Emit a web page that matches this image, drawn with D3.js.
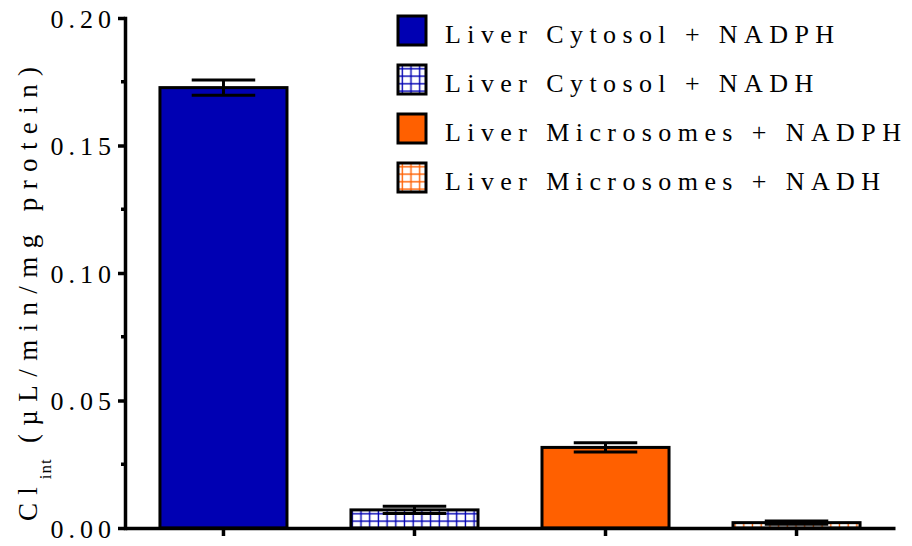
<!DOCTYPE html>
<html>
<head>
<meta charset="utf-8">
<script src="https://cdn.jsdelivr.net/npm/d3@7"></script>
</head>
<body style="margin:0">
<script>
// data
const categories = ["Liver Cytosol + NADPH", "Liver Cytosol + NADH", "Liver Microsomes + NADPH", "Liver Microsomes + NADH"];
const means = [0.1727, 0.0071, 0.0316, 0.0021];
const sds = [0.0030, 0.0014, 0.0018, 0.0006];
const yTicks = [0, 0.05, 0.10, 0.15, 0.20];
const yMinorTicks = [0.025, 0.075, 0.125, 0.175];

// styles per category
const blue = "#0000b3", orange = "#ff6000";
const fills = ["solid-blue", "hatch-blue", "solid-orange", "hatch-orange"];
const serif = '"Liberation Serif"';

// per-character gaps (wide tracking like the original export)
const gaps = (str, ls, first = 0) => [...str].map((c, i) => i === 0 ? first : ls).join(" ");

const width = 912, height = 546;
const svg = d3.select("body").append("svg")
    .attr("width", width)
    .attr("height", height)
    .style("display", "block");

// hatched patterns
const defs = svg.append("defs");
function hatch(id, color) {
    const p = defs.append("pattern")
        .attr("id", id)
        .attr("patternUnits", "userSpaceOnUse")
        .attr("x", 0).attr("y", 0)
        .attr("width", 8.7).attr("height", 7.5);
    p.append("rect").attr("width", 8.7).attr("height", 7.5).attr("fill", "#fff");
    p.append("line").attr("x1", 4.3).attr("x2", 4.3).attr("y1", 0).attr("y2", 7.5)
        .attr("stroke", color).attr("stroke-width", 1.4);
    p.append("line").attr("x1", 0).attr("x2", 8.7).attr("y1", 3.7).attr("y2", 3.7)
        .attr("stroke", color).attr("stroke-width", 1.4);
}
hatch("hatch-blue", blue);
hatch("hatch-orange", orange);
const fillOf = k => ({
    "solid-blue": blue,
    "solid-orange": orange,
    "hatch-blue": "url(#hatch-blue)",
    "hatch-orange": "url(#hatch-orange)"
})[k];

// scales
const x = d3.scaleBand()
    .domain(categories)
    .range([125, 895])
    .paddingInner(0.335)
    .paddingOuter(0.183);
const y = d3.scaleLinear()
    .domain([0, 0.2])
    .range([528, 18]);

const fontSize = 26;

// bars
svg.append("g")
    .selectAll("rect")
    .data(categories)
    .join("rect")
    .attr("x", d => x(d))
    .attr("y", (d, i) => y(means[i]))
    .attr("width", x.bandwidth())
    .attr("height", (d, i) => y(0) - y(means[i]))
    .attr("fill", (d, i) => fillOf(fills[i]))
    .attr("stroke", "#000")
    .attr("stroke-width", 3);

// error bars (mean ± SD)
const err = svg.append("g")
    .attr("stroke", "#000")
    .attr("stroke-width", 3)
    .selectAll("g")
    .data(categories)
    .join("g");
const cx = d => x(d) + x.bandwidth() / 2;
const capW = x.bandwidth() / 4;
err.append("line")
    .attr("x1", cx).attr("x2", cx)
    .attr("y1", (d, i) => y(means[i] + sds[i]))
    .attr("y2", (d, i) => y(means[i] - sds[i]));
err.append("line")
    .attr("x1", d => cx(d) - capW).attr("x2", d => cx(d) + capW)
    .attr("y1", (d, i) => y(means[i] + sds[i]))
    .attr("y2", (d, i) => y(means[i] + sds[i]));
err.append("line")
    .attr("x1", d => cx(d) - capW).attr("x2", d => cx(d) + capW)
    .attr("y1", (d, i) => y(means[i] - sds[i]))
    .attr("y2", (d, i) => y(means[i] - sds[i]));

// y axis
const yAxis = svg.append("g")
    .attr("transform", "translate(125,0)")
    .call(d3.axisLeft(y)
        .tickValues(yTicks)
        .tickFormat(d3.format(".2f"))
        .tickSize(7)
        .tickSizeOuter(0)
        .tickPadding(7));
yAxis.attr("font-family", null).attr("font-size", null);
yAxis.select(".domain").attr("stroke", "#000").attr("stroke-width", 3.5).attr("stroke-linecap", "square");
yAxis.selectAll(".tick line").attr("stroke", "#000").attr("stroke-width", 3.5);
yAxis.selectAll(".tick text")
    .style("font-family", serif)
    .attr("font-size", fontSize)
    .attr("dx", d => gaps(d3.format(".2f")(d), 5))
    .attr("dy", "0.36em")
    .attr("fill", "#000");
svg.append("g")
    .attr("transform", "translate(125,0)")
    .selectAll("line")
    .data(yMinorTicks)
    .join("line")
    .attr("x1", -4).attr("x2", 0)
    .attr("y1", d => y(d)).attr("y2", d => y(d))
    .attr("stroke", "#000")
    .attr("stroke-width", 3.5);

// x axis
const xAxis = svg.append("g")
    .attr("transform", "translate(0,528)")
    .call(d3.axisBottom(x).tickSize(8).tickSizeOuter(0).tickFormat(""));
xAxis.select(".domain").attr("stroke", "#000").attr("stroke-width", 3.5);
xAxis.selectAll(".tick line").attr("stroke", "#000").attr("stroke-width", 3.5);

// y axis title
const ylab = svg.append("text")
    .attr("transform", "translate(37,294) rotate(-90)")
    .attr("text-anchor", "middle")
    .style("font-family", serif)
    .attr("font-size", 27);
const lab1 = "Cl", lab2 = "int", lab3 = " (µL/min/mg protein)";
ylab.append("tspan").attr("dx", gaps(lab1, 8.4)).text(lab1);
ylab.append("tspan").attr("font-size", 17).attr("dx", gaps(lab2, 1, 8)).attr("dy", 14).text(lab2);
ylab.append("tspan").attr("dx", gaps(lab3, 8.4, 1)).attr("dy", -14).text(lab3);

// legend
const legend = svg.append("g")
    .selectAll("g")
    .data(categories)
    .join("g")
    .attr("transform", (d, i) => `translate(398,${16 + i * 49})`);
legend.append("rect")
    .attr("width", 28).attr("height", 29)
    .attr("fill", (d, i) => fillOf(fills[i]))
    .attr("stroke", "#000")
    .attr("stroke-width", 3);
legend.append("text")
    .attr("x", 47)
    .attr("y", 27)
    .attr("dx", d => gaps(d, 6.4))
    .style("font-family", serif)
    .attr("font-size", fontSize)
    .text(d => d);
</script>
</body>
</html>
